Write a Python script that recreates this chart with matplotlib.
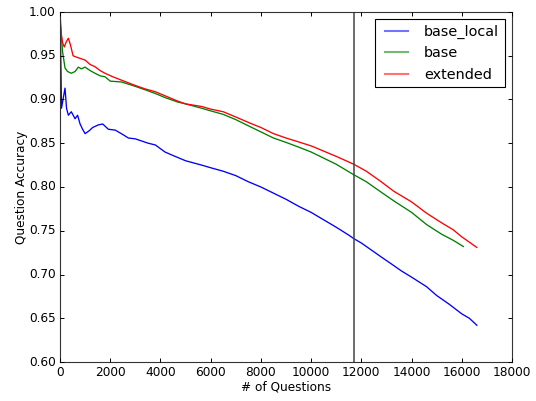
import matplotlib
matplotlib.use("Agg")
import matplotlib.pyplot as plt
from matplotlib.ticker import FormatStrFormatter, MultipleLocator

plt.style.use('classic')

base_local_x = [0, 30, 60, 120, 200, 260, 333, 450, 600, 700, 800, 900, 1000, 1150, 1300, 1527, 1700, 1925,
                2200, 2500, 2721, 3000, 3517, 3800, 4180, 4500, 5000, 5642, 6000, 6500, 7000, 7500, 8000,
                8500, 9000, 9500, 10000, 10470, 11000, 11500, 11700, 12000, 12744, 13200, 13600, 14000,
                14600, 15000, 15500, 16000, 16300, 16600]
base_local_y = [1.0, 0.95, 0.89, 0.90, 0.913, 0.89, 0.882, 0.886, 0.878, 0.882, 0.872, 0.866, 0.861, 0.864,
                0.868, 0.871, 0.872, 0.866, 0.865, 0.860, 0.856, 0.855, 0.850, 0.848, 0.840, 0.836, 0.830,
                0.825, 0.822, 0.818, 0.813, 0.806, 0.800, 0.793, 0.786, 0.778, 0.771, 0.763, 0.754, 0.745,
                0.741, 0.736, 0.721, 0.712, 0.704, 0.697, 0.686, 0.676, 0.666, 0.655, 0.650, 0.642]

base_x = [0, 50, 100, 200, 300, 450, 600, 730, 850, 1000, 1200, 1394, 1600, 1792, 2000, 2456, 3000, 3400,
          3783, 4200, 4700, 5000, 5642, 6000, 6500, 7000, 7567, 8000, 8500, 9000, 9558, 10000, 10500,
          11000, 11700, 12200, 12744, 13300, 14000, 14602, 15200, 15664, 16062]
base_y = [1.0, 0.975, 0.955, 0.936, 0.932, 0.930, 0.932, 0.937, 0.935, 0.937, 0.933, 0.930, 0.927, 0.926,
          0.921, 0.920, 0.915, 0.911, 0.907, 0.902, 0.897, 0.895, 0.890, 0.887, 0.883, 0.877, 0.869, 0.863,
          0.856, 0.851, 0.845, 0.840, 0.833, 0.826, 0.814, 0.806, 0.795, 0.784, 0.771, 0.757, 0.746,
          0.739, 0.732]

extended_x = [0, 50, 100, 170, 250, 333, 420, 520, 600, 800, 1000, 1200, 1394, 1600, 1792, 2100, 2456, 3000,
              3400, 3783, 4200, 4700, 5000, 5642, 6000, 6500, 7000, 7567, 8000, 8500, 9000, 9558, 10000,
              10500, 11000, 11700, 12200, 12744, 13300, 14000, 14602, 15200, 15664, 16000, 16300, 16594]
extended_y = [0.99, 0.975, 0.965, 0.960, 0.966, 0.970, 0.962, 0.950, 0.949, 0.947, 0.945, 0.940, 0.9375,
              0.933, 0.930, 0.926, 0.922, 0.916, 0.912, 0.909, 0.904, 0.898, 0.895, 0.892, 0.889, 0.886,
              0.880, 0.873, 0.868, 0.861, 0.856, 0.851, 0.847, 0.841, 0.835, 0.826, 0.818, 0.807, 0.795,
              0.783, 0.770, 0.759, 0.751, 0.743, 0.737, 0.731]

split_x = 11700

W, H = 536, 401
fig = plt.figure(figsize=(W / 100, H / 100), dpi=100, facecolor='white')
ax = fig.add_axes([60 / W, (H - 362) / H, 452 / W, 350 / H])

lw = 0.95
ax.plot(base_local_x, base_local_y, color='b', lw=lw, label='base_local')
ax.plot(base_x, base_y, color='g', lw=lw, label='base')
ax.plot(extended_x, extended_y, color='r', lw=lw, label='extended')
ax.axvline(split_x, color='#444444', lw=1.1)

ax.set_xlim(0, 18000)
ax.set_ylim(0.60, 1.00)
ax.xaxis.set_major_locator(MultipleLocator(2000))
ax.yaxis.set_major_locator(MultipleLocator(0.05))
ax.yaxis.set_major_formatter(FormatStrFormatter('%.2f'))
ax.tick_params(which='major', direction='in', length=3, width=0.7, labelsize=8.7,
               top=True, right=True, pad=3)
ax.tick_params(which='minor', length=0)
for s in ax.spines.values():
    s.set_linewidth(0.8)
    s.set_edgecolor('#333333')

ax.set_xlabel('# of Questions', fontsize=8.7, labelpad=1)
ax.set_ylabel('Question Accuracy', fontsize=8.7, labelpad=1)

leg = ax.legend(loc='upper right', fontsize=10.4, frameon=True, fancybox=False,
                borderaxespad=0.5, handlelength=2.2)
leg.get_frame().set_linewidth(0.8)
for h in leg.get_lines():
    h.set_alpha(0.55)
    h.set_linewidth(1.5)

fig.savefig('out.png', dpi=100, facecolor='white')
